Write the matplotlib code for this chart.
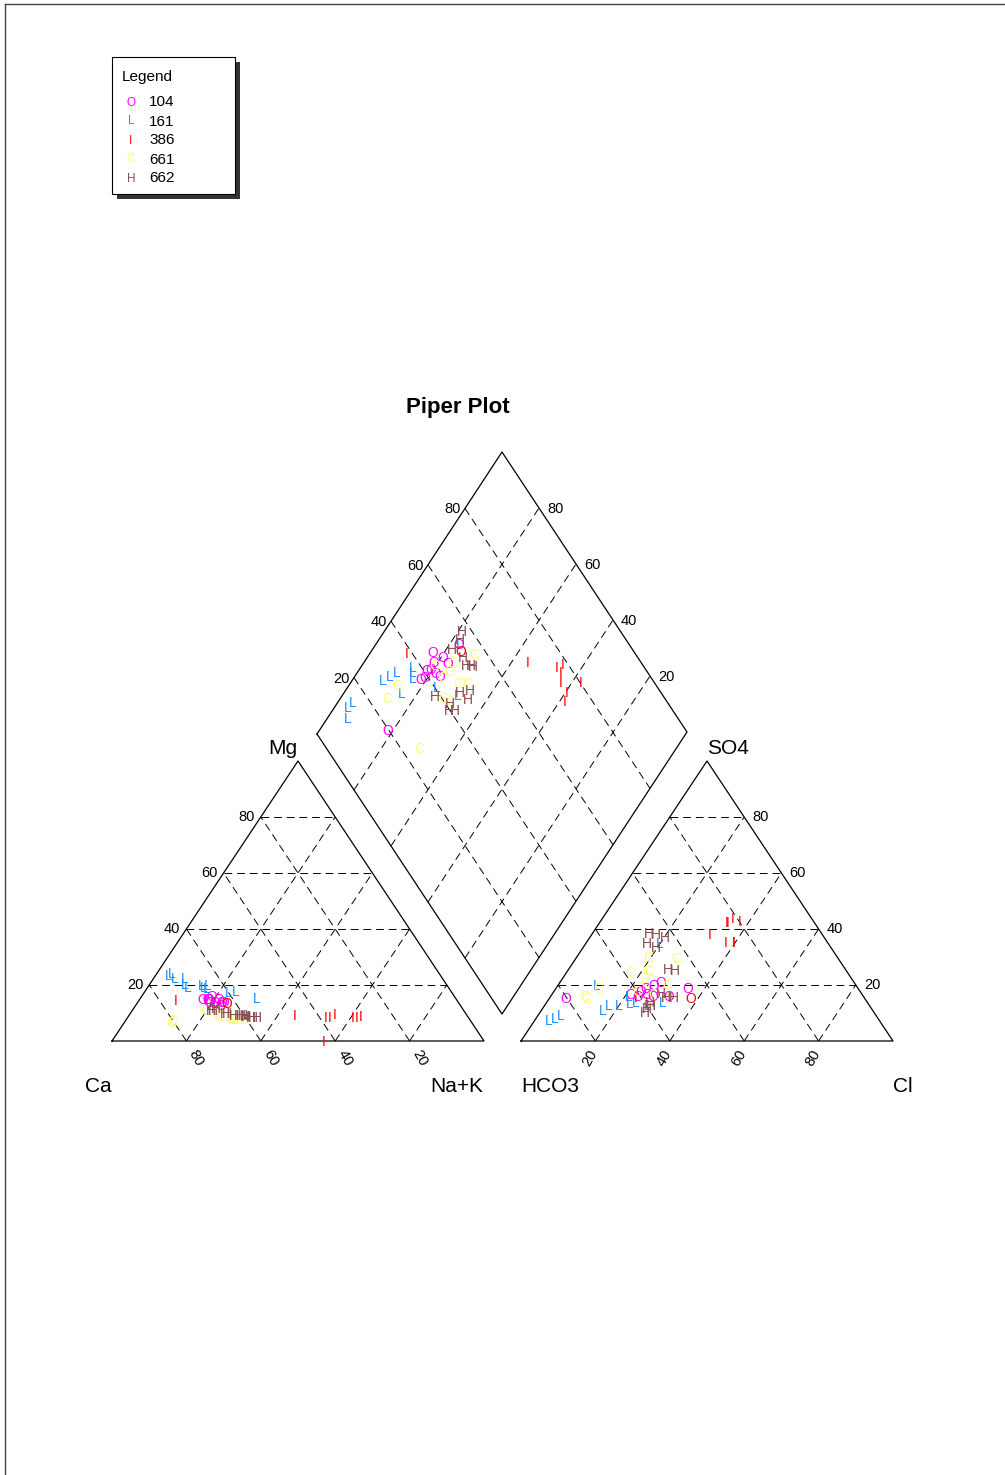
import matplotlib
matplotlib.use("Agg")
import matplotlib.pyplot as plt
from matplotlib.patches import Rectangle

plt.rcParams['font.family'] = ['Liberation Sans', 'DejaVu Sans']

# ---------------- data (percent of meq) ----------------
groups = ["104", "161", "386", "661", "662"]
symbols = ["O", "L", "I", "C", "H"]
colors = ["#FF00FF", "#1E90FF", "#FF0000", "#FFFF70", "#8B4C4C"]

ca_104 = [68.1, 65.5, 65.2, 64.2, 66.7, 66.7, 63.7, 67.0, 66.7, 62.9, 63.5, 66.5]
mg_104 = [15.0, 14.0, 16.0, 13.0, 15.0, 14.0, 15.0, 14.0, 15.0, 14.0, 14.0, 15.0]
nak_104 = [16.9, 20.5, 18.8, 22.8, 18.3, 19.3, 21.3, 19.0, 18.3, 23.1, 22.5, 18.5]
hco3_104 = [54.2, 52.4, 55.6, 52.0, 58.9, 57.6, 57.0, 60.7, 62.1, 56.6, 45.8, 80.1]
so4_104 = [20.0, 16.0, 17.0, 21.0, 18.0, 17.0, 19.0, 16.0, 17.0, 16.0, 19.0, 15.5]
cl_104 = [25.8, 31.6, 27.4, 27.0, 23.1, 25.4, 24.0, 23.3, 20.9, 27.4, 35.2, 4.4]

ca_161 = [66.0, 65.6, 65.0, 69.9, 70.1, 69.3, 64.3, 71.7, 72.9, 72.0, 57.8, 53.3, 59.9]
mg_161 = [20.0, 19.5, 19.0, 19.5, 20.5, 22.5, 20.0, 24.3, 23.5, 22.5, 18.0, 15.5, 17.5]
nak_161 = [14.0, 14.9, 16.0, 10.6, 9.4, 8.2, 15.7, 4.0, 3.6, 5.5, 24.2, 31.2, 22.6]
hco3_161 = [62.2, 63.0, 64.1, 67.3, 70.0, 72.6, 69.7, 84.6, 86.8, 88.8, 59.4, 55.0, 45.3]
so4_161 = [14.0, 16.1, 13.6, 12.9, 12.9, 11.1, 20.0, 9.3, 8.2, 7.5, 12.9, 14.0, 35.0]
cl_161 = [23.8, 20.9, 22.3, 19.8, 17.1, 16.3, 10.3, 6.1, 5.0, 3.7, 27.7, 31.0, 19.7]

ca_386 = [75.5, 46.3, 38.3, 37.2, 35.3, 42.9, 31.1, 30.0, 28.8]
mg_386 = [14.6, 9.3, 8.6, 8.6, 9.6, 0.2, 8.6, 8.6, 8.9]
nak_386 = [9.9, 44.4, 53.1, 54.2, 55.1, 56.9, 60.3, 61.4, 62.3]
hco3_386 = [61.3, 30.3, 23.4, 21.2, 23.2, 25.0, 25.1, 27.3, 19.6]
so4_386 = [15.7, 38.2, 42.5, 43.9, 42.5, 35.4, 35.4, 35.4, 43.0]
cl_386 = [23.0, 31.5, 34.1, 34.9, 34.3, 39.6, 39.5, 37.3, 37.4]

ca_661 = [63.6, 66.8, 66.4, 66.8, 62.9, 60.4, 64.2, 61.9, 80.0, 80.5, 61.9, 69.4]
mg_661 = [8.0, 9.3, 9.0, 9.5, 7.9, 8.0, 8.0, 7.9, 7.1, 7.0, 8.0, 11.1]
nak_661 = [28.4, 23.9, 24.6, 23.7, 29.2, 31.6, 27.8, 30.2, 12.9, 12.5, 30.1, 19.5]
hco3_661 = [43.5, 50.9, 53.3, 56.1, 53.0, 50.6, 59.7, 58.4, 69.7, 74.7, 74.9, 56.0]
so4_661 = [29.6, 30.0, 25.4, 21.1, 25.0, 20.0, 18.0, 24.6, 18.9, 15.4, 16.0, 17.0]
cl_661 = [26.9, 19.1, 21.3, 22.8, 22.0, 29.4, 22.3, 17.0, 11.4, 9.9, 9.1, 27.0]

ca_662 = [68.0, 66.1, 67.5, 64.1, 62.5, 61.2, 64.7, 59.9, 57.7, 56.7, 60.1, 58.3, 59.5, 60.7]
mg_662 = [11.0, 12.0, 11.0, 10.0, 9.3, 9.3, 10.0, 8.9, 8.6, 8.6, 9.3, 8.6, 8.9, 9.3]
nak_662 = [21.0, 21.9, 21.5, 25.9, 28.2, 29.5, 25.3, 31.2, 33.7, 34.7, 30.6, 33.1, 31.6, 30.0]
hco3_662 = [42.7, 44.6, 48.6, 47.0, 47.6, 46.3, 61.5, 53.9, 51.0, 53.1, 58.7, 58.4, 60.2, 45.9]
so4_662 = [37.1, 38.2, 35.0, 33.6, 25.7, 38.6, 10.4, 17.1, 15.7, 15.7, 12.9, 14.0, 12.0, 25.4]
cl_662 = [20.2, 17.2, 16.4, 19.4, 26.7, 15.1, 28.1, 29.0, 33.3, 31.2, 28.4, 27.6, 27.8, 28.7]

# one sample drawn as a red "O" (not listed in the legend)
ca_extra = [62.3]
mg_extra = [13.6]
nak_extra = [24.1]
hco3_extra = [46.6]
so4_extra = [15.4]
cl_extra = [38.0]

tick_vals = [20, 40, 60, 80]

series = [
    ("O", "#FF00FF", ca_104, mg_104, nak_104, hco3_104, so4_104, cl_104),
    ("L", "#1E90FF", ca_161, mg_161, nak_161, hco3_161, so4_161, cl_161),
    ("I", "#FF0000", ca_386, mg_386, nak_386, hco3_386, so4_386, cl_386),
    ("C", "#FFFF70", ca_661, mg_661, nak_661, hco3_661, so4_661, cl_661),
    ("H", "#8B4C4C", ca_662, mg_662, nak_662, hco3_662, so4_662, cl_662),
    ("O", "#FF0000", ca_extra, mg_extra, nak_extra, hco3_extra, so4_extra, cl_extra),
]

# ---------------- geometry (figure pixel space) ----------------
CAT_X0, AN_X0, BASE_Y, SIDE, HGT = 112, 521, 1041, 372, 280
D_LEFT, D_TOP, D_BOT = (317, 734), (502, 452), (502, 1014)


def tri_xy(x0, a, b):
    # a: fraction toward right corner, b: fraction toward apex
    return x0 + SIDE * (a + b / 2.0), BASE_Y - HGT * b


def dia_xy(n, s):
    x = D_LEFT[0] + (D_TOP[0] - D_LEFT[0]) * s + (D_BOT[0] - D_LEFT[0]) * n
    y = D_LEFT[1] + (D_TOP[1] - D_LEFT[1]) * s + (D_BOT[1] - D_LEFT[1]) * n
    return x, y


fig = plt.figure(figsize=(10.05, 14.75), dpi=100)
ax = fig.add_axes([0, 0, 1, 1])
ax.set_xlim(0, 1005)
ax.set_ylim(1475, 0)
ax.axis('off')

# page frame
ax.plot([5, 1005], [4, 4], color='#444444', lw=1.0)
ax.plot([5, 5], [4, 1475], color='#444444', lw=1.0)

GRID = dict(color='black', lw=0.7, linestyle=(0, (8, 5)))
EDGE = dict(color='black', lw=0.9)

# triangles
for x0 in (CAT_X0, AN_X0):
    pts = [tri_xy(x0, 0, 0), tri_xy(x0, 1, 0), tri_xy(x0, 0, 1), tri_xy(x0, 0, 0)]
    ax.plot([p[0] for p in pts], [p[1] for p in pts], **EDGE)
    for v in tick_vals:
        f = v / 100.0
        p1, p2 = tri_xy(x0, 0, f), tri_xy(x0, 1 - f, f)
        ax.plot([p1[0], p2[0]], [p1[1], p2[1]], **GRID)
        p1, p2 = tri_xy(x0, f, 0), tri_xy(x0, f, 1 - f)
        ax.plot([p1[0], p2[0]], [p1[1], p2[1]], **GRID)
        p1, p2 = tri_xy(x0, 1 - f, 0), tri_xy(x0, 0, 1 - f)
        ax.plot([p1[0], p2[0]], [p1[1], p2[1]], **GRID)

# diamond
dpts = [dia_xy(0, 0), dia_xy(0, 1), dia_xy(1, 1), dia_xy(1, 0), dia_xy(0, 0)]
ax.plot([p[0] for p in dpts], [p[1] for p in dpts], **EDGE)
for v in tick_vals:
    f = v / 100.0
    p1, p2 = dia_xy(0, f), dia_xy(1, f)
    ax.plot([p1[0], p2[0]], [p1[1], p2[1]], **GRID)
    p1, p2 = dia_xy(f, 0), dia_xy(f, 1)
    ax.plot([p1[0], p2[0]], [p1[1], p2[1]], **GRID)

TK = 10.5
for v in tick_vals:
    f = v / 100.0
    x, y = tri_xy(CAT_X0, 0, f)
    ax.text(x - 6, y, str(v), ha='right', va='center', fontsize=TK)
    x, y = tri_xy(CAT_X0, 1 - f, 0)
    ax.text(x + 10, y + 17, str(v), ha='center', va='center', fontsize=TK, rotation=-60)
    x, y = tri_xy(AN_X0, 1 - f, f)
    ax.text(x + 8, y, str(v), ha='left', va='center', fontsize=TK)
    x, y = tri_xy(AN_X0, f, 0)
    ax.text(x - 5.5, y + 17, str(v), ha='center', va='center', fontsize=TK, rotation=60)
    x, y = dia_xy(0, f)
    ax.text(x - 4, y + 1, str(v), ha='right', va='center', fontsize=TK)
    x, y = dia_xy(1 - f, 1)
    ax.text(x + 8, y + 1, str(v), ha='left', va='center', fontsize=TK)

CL = 15
ax.text(98, 1086, "Ca", ha='center', va='center', fontsize=CL)
ax.text(457, 1086, "Na+K", ha='center', va='center', fontsize=CL)
ax.text(283, 749, "Mg", ha='center', va='center', fontsize=CL)
ax.text(550, 1086, "HCO3", ha='center', va='center', fontsize=CL)
ax.text(903, 1086, "Cl", ha='center', va='center', fontsize=CL)
ax.text(728, 749, "SO4", ha='center', va='center', fontsize=CL)
ax.text(458, 408, "Piper Plot", ha='center', va='center', fontsize=16, fontweight='bold')

MK = 10
DY = 1.2
for sym, col, ca, mg, nak, hco3, so4, cl in series:
    for i in range(len(ca)):
        tc = ca[i] + mg[i] + nak[i]
        ta = hco3[i] + so4[i] + cl[i]
        fm, fn = mg[i] / tc, nak[i] / tc
        fs, fc = so4[i] / ta, cl[i] / ta
        for (x, y) in (tri_xy(CAT_X0, fn, fm), tri_xy(AN_X0, fc, fs), dia_xy(fn, fs + fc)):
            ax.text(x, y + DY, sym, color=col, ha='center', va='center', fontsize=MK)

# legend box
ax.add_patch(Rectangle((117, 62), 123, 137, facecolor='#333333', edgecolor='none'))
ax.add_patch(Rectangle((112, 57), 123, 137, facecolor='white', edgecolor='black', lw=0.8))
ax.text(122, 77, "Legend", ha='left', va='center', fontsize=11)
for k, (g, s, c) in enumerate(zip(groups, symbols, colors)):
    yy = 102.5 + 19 * k
    ax.text(131, yy, s, color=c, ha='center', va='center', fontsize=8.5)
    ax.text(149, yy, g, ha='left', va='center', fontsize=11)

fig.savefig("out.png", dpi=100)
